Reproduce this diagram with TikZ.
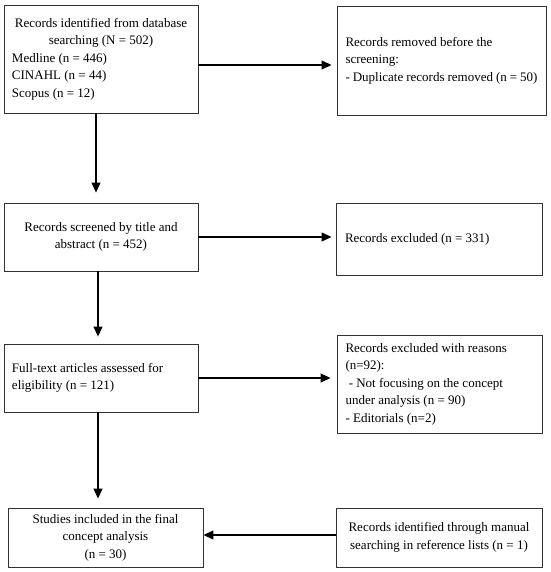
\documentclass[tikz,border=0pt]{standalone}
\usepackage{fontspec}
\setmainfont{Liberation Serif}
\usetikzlibrary{arrows.meta,calc}
\begin{document}
\begin{tikzpicture}[x=1pt,y=-1pt,
  box/.style={draw=black!80,line width=0.9pt,inner sep=0pt,minimum width=194pt,
    font=\fontsize{13}{17.5}\selectfont},
  arr/.style={line width=1.1pt,-{Triangle[length=10pt,width=9pt]}},
  ]
\useasboundingbox (0,0) rectangle (550,572);
% left column
\node[box,minimum height=108pt] (b1) at (101,59)
  {\begin{minipage}{178pt}\centering Records identified from database\\searching (N = 502)\par\raggedright Medline (n = 446)\\CINAHL (n = 44)\\Scopus (n = 12)\end{minipage}};
\node[box,minimum height=68pt] (b3) at (101,237)
  {\begin{minipage}{178pt}\centering Records screened by title and\\abstract (n = 452)\end{minipage}};
\node[box,minimum height=68pt] (b5) at (101,378)
  {\begin{minipage}{178pt}\raggedright Full-text articles assessed for\\eligibility (n = 121)\end{minipage}};
\node[box,minimum height=59pt,minimum width=195pt] (b7) at (105.5,537.5)
  {\begin{minipage}{178pt}\centering Studies included in the final\\concept analysis\\(n = 30)\end{minipage}};
% right column
\node[box,minimum height=109pt,minimum width=209pt] (b2) at (441.5,60.5)
  {\begin{minipage}{192pt}\raggedright Records removed before the\\screening:\\- Duplicate records removed (n = 50)\end{minipage}};
\node[box,minimum height=72pt,minimum width=206pt] (b4) at (439,239)
  {\begin{minipage}{188pt}\raggedright Records excluded (n = 331)\end{minipage}};
\node[box,minimum height=98pt,minimum width=205pt] (b6) at (439.5,384)
  {\begin{minipage}{188pt}\raggedright Records excluded with reasons\\(n=92):\\\ - Not focusing on the concept\\under analysis (n = 90)\\- Editorials (n=2)\end{minipage}};
\node[box,minimum height=59pt,minimum width=206pt] (b8) at (439,537.5)
  {\begin{minipage}{196pt}\centering Records identified through manual\\searching in reference lists (n = 1)\end{minipage}};
% connectors
\draw[arr,shorten >=5pt] ([yshift=-6pt]b1.east) -- ([yshift=-6pt]b1.east -| b2.west);
\draw[arr,shorten >=4pt] (b3.east) -- (b3.east -| b4.west);
\draw[arr,shorten >=6pt] (b5.east) -- (b5.east -| b6.west);
\draw[arr] ([yshift=2.5pt]b8.west) -- ([yshift=2.5pt]b8.west -| b7.east);
\draw[arr,shorten >=10pt] ([xshift=-5pt]b1.south) -- ([xshift=-5pt]b1.south |- b3.north);
\draw[arr,shorten >=7pt] ([xshift=-3pt]b3.south) -- ([xshift=-3pt]b3.south |- b5.north);
\draw[arr,shorten >=9pt] ([xshift=-3pt]b5.south) -- ([xshift=-3pt]b5.south |- b7.north);
\end{tikzpicture}
\end{document}
